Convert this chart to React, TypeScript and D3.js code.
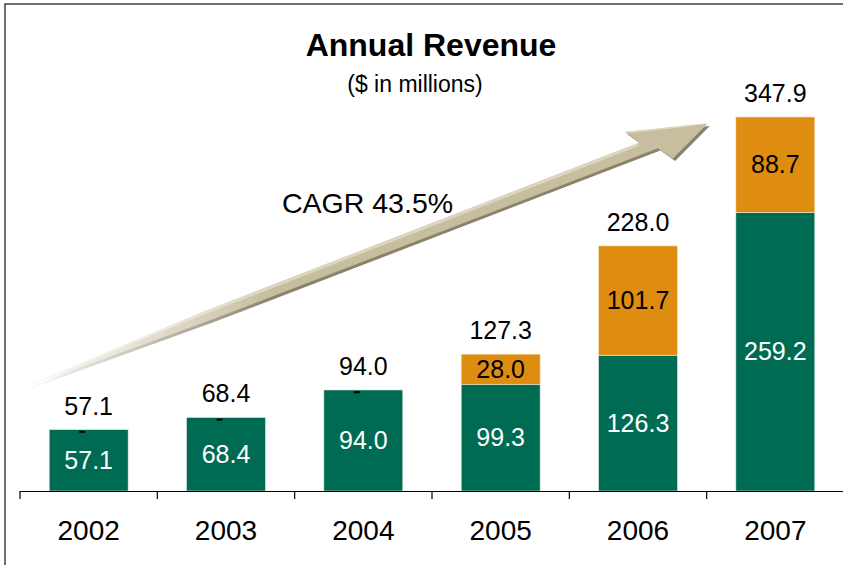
import React from "react";
import * as d3 from "d3";

// chart values
const years = ["2002", "2003", "2004", "2005", "2006", "2007"];
const baseRevenue = [57.1, 68.4, 94.0, 99.3, 126.3, 259.2];
const addedRevenue = [0, 0, 0, 28.0, 101.7, 88.7];
const totals = [57.1, 68.4, 94.0, 127.3, 228.0, 347.9];
const cagrLabel = "CAGR 43.5%";

const W = 843,
  H = 565;
const font = "'Liberation Sans', Arial, Helvetica, sans-serif";
const green = "#006b53";
const orange = "#de8d10";

export default function App() {
  const x = d3
    .scaleBand<string>()
    .domain(years)
    .range([20, 844])
    .paddingInner(0.425)
    .paddingOuter(0.2125);
  const y = d3.scaleLinear().domain([0, d3.max(totals) as number]).range([491, 117]);
  const step = x.step();
  const bw = x.bandwidth();
  const base = y(0);

  // arrow drawn in its own frame: from tail (30,385) towards tip (707,124)
  const tail = [30, 385];
  const angle = (Math.atan2(124 - 385, 707 - 30) * 180) / Math.PI;
  const line = d3.line();
  const body: [number, number][] = [
    [0, -0.5], [190, -6], [656, -7], [646, -22], [726, 0], [681, 20], [671, 5], [190, 4.5], [0, 0.5],
  ];
  const light: [number, number][] = [
    [0, -0.5], [190, -6], [656, -7], [652, -4], [190, -3], [0, 0],
  ];
  const headLight: [number, number][] = [[646, -22], [722, -2], [726, 0], [700, -6], [651, -19]];

  const ticks = d3.range(years.length + 1).map((i) => x.range()[0] + i * step);

  return (
    <svg width={W} height={H} style={{ position: "absolute", left: 0, top: 0, background: "#fff" }} fontFamily={font}>
      <defs>
        <linearGradient id="fade" gradientUnits="userSpaceOnUse" x1={0} y1={0} x2={260} y2={0}>
          <stop offset="0" stopColor="#fff" stopOpacity={0.05} />
          <stop offset="1" stopColor="#fff" stopOpacity={1} />
        </linearGradient>
        <mask id="arrowMask" maskUnits="userSpaceOnUse" x={-50} y={-60} width={900} height={120}>
          <rect x={-50} y={-60} width={900} height={120} fill="url(#fade)" />
        </mask>
      </defs>

      {/* frame */}
      <rect x={5} y={4} width={W + 20} height={H + 20} fill="none" stroke="#222" strokeWidth={1.3} />

      {/* title */}
      <text x={431} y={56} textAnchor="middle" fontSize={32} fontWeight="bold" fill="#000">
        Annual Revenue
      </text>
      <text x={415} y={92} textAnchor="middle" fontSize={23} fill="#000">
        ($ in millions)
      </text>

      {/* growth arrow */}
      <g transform={`translate(${tail[0]},${tail[1]}) rotate(${angle})`} mask="url(#arrowMask)">
        <path d={line(body) + "Z"} fill="#8a826a" transform="translate(1.5,3)" />
        <path d={line(body) + "Z"} fill="#c7bea0" />
        <path d={line(light) + "Z"} fill="#dcd5bf" />
        <path d={line(headLight) + "Z"} fill="#dcd5bf" />
      </g>
      <text x={282} y={213} fontSize={28.5} fill="#000">
        {cagrLabel}
      </text>

      {/* bars */}
      {years.map((yr, i) => {
        const x0 = x(yr) as number;
        const cx = x0 + bw / 2;
        const gTop = y(baseRevenue[i]);
        const oTop = y(baseRevenue[i] + addedRevenue[i]);
        return (
          <g key={yr}>
            <rect x={x0} y={gTop} width={bw} height={base - gTop} fill={green} stroke="#e8efe9" strokeWidth={0.6} />
            {addedRevenue[i] > 0 ? (
              <rect x={x0} y={oTop} width={bw} height={gTop - oTop} fill={orange} stroke="#f6e6c8" strokeWidth={0.6} />
            ) : (
              <rect x={cx - 9.5} y={gTop + 1.2} width={6} height={2} fill="#000" />
            )}
            <text x={cx} y={(gTop + base) / 2} dy="0.35em" textAnchor="middle" fontSize={25} fill="#fff">
              {baseRevenue[i].toFixed(1)}
            </text>
            {addedRevenue[i] > 0 && (
              <text x={cx} y={(oTop + gTop) / 2} dy="0.35em" textAnchor="middle" fontSize={25} fill="#000">
                {addedRevenue[i].toFixed(1)}
              </text>
            )}
            <text x={cx} y={y(totals[i]) - 15} textAnchor="middle" fontSize={25} fill="#000">
              {totals[i].toFixed(1)}
            </text>
            <text x={cx} y={540} textAnchor="middle" fontSize={28} fill="#000">
              {yr}
            </text>
          </g>
        );
      })}

      {/* category axis */}
      <line x1={20} x2={W} y1={base + 0.5} y2={base + 0.5} stroke="#000" strokeWidth={1.2} />
      {ticks.map((t, i) => (
        <line key={i} x1={t} x2={t} y1={base} y2={base + 8} stroke="#000" strokeWidth={1.2} />
      ))}
    </svg>
  );
}
